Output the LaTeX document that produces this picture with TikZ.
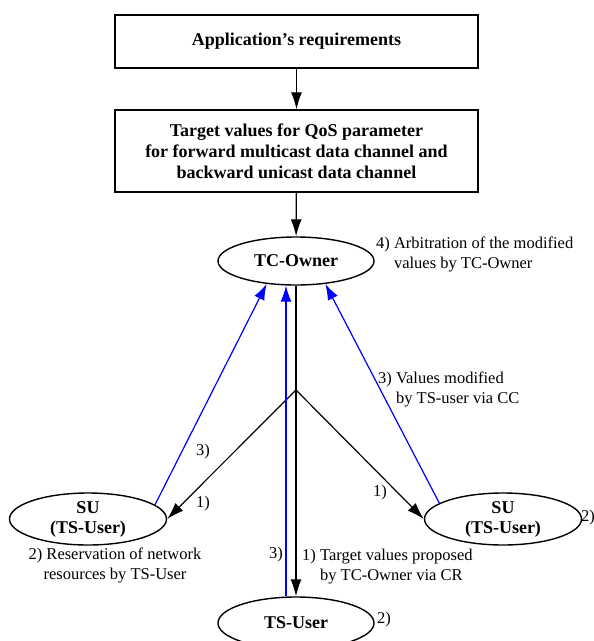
\documentclass[tikz,border=0pt]{standalone}
\usepackage{fontspec}
\setmainfont{Liberation Serif}
\usetikzlibrary{arrows.meta,shapes.geometric}
\tikzset{
  txt/.style={font=\fontsize{16.5pt}{20pt}\selectfont, inner sep=0pt},
  box/.style={draw, line width=1.4pt, minimum width=363pt, font=\fontsize{18pt}{21pt}\selectfont\bfseries, align=center},
  ell/.style={draw, ellipse, line width=1.4pt, inner sep=0pt, font=\fontsize{18pt}{20pt}\selectfont\bfseries, align=center},
  arr/.style={line width=1.2pt, -{Latex[length=17pt,width=11pt]}},
  barr/.style={blue, line width=1.2pt, -{Latex[length=16pt,width=11pt]}}
}
\begin{document}
\begin{tikzpicture}[x=1pt,y=-1pt]
   \useasboundingbox (0,0) rectangle (594,641);
   % boxes on top
   \node [box, minimum height=53pt] (req) at (296.5,41.5) {Application’s requirements};
   \node [box, minimum height=82pt] (target) at (296.5,151) {Target values for QoS parameter\\for forward multicast data channel and\\backward unicast data channel};
   % users
   \node [ell, minimum width=156pt, minimum height=48pt] (owner) at (296,261) {TC-Owner};
   \node [ell, minimum width=157pt, minimum height=52pt] (suL) at (88,519) {SU\\(TS-User)};
   \node [ell, minimum width=157pt, minimum height=52pt] (suR) at (503,519) {SU\\(TS-User)};
   \node [ell, minimum width=156pt, minimum height=52pt] (tsu) at (296,623) {TS-User};
   \coordinate (fork) at (296,390);
   % connectors
   \draw [arr] (req) -- (target);
   \draw [arr] (target) -- (owner);
   \draw [arr] (owner.south) -- (tsu.north);
   \draw [arr] (fork) -- (suL.east);
   \draw [arr] (fork) -- (suR.west);
   \draw [barr] (suL.12) -- (owner.218);
   \draw [barr] (suR.166) -- (owner.322);
   \draw [barr] ([xshift=-10pt]tsu.north) -- ([xshift=-10pt]owner.south);
   % labels
   \node [txt, anchor=west, align=left] (arb) at (376,254.5) {4) Arbitration of the modified\\\phantom{4) }values by TC-Owner};
   \node [txt, anchor=west, align=left] (mod) at (378,389) {3) Values modified\\\phantom{3) }by TS-user via CC};
   \node [txt] (l3a) at (203,452) {3)};
   \node [txt] (l1a) at (203,504) {1)};
   \node [txt] (l1b) at (380,493) {1)};
   \node [txt] (l3b) at (276,555) {3)};
   \node [txt, align=center] (resv) at (115,565) {2) Reservation of network\\resources by TS-User};
   \node [txt, anchor=west, align=left] (prop) at (302,567) {1) Target values proposed\\\phantom{1) }by TC-Owner via CR};
   \node [txt, anchor=west] (l2a) at (581,518) {2)};
   \node [txt, anchor=west] (l2b) at (377,620) {2)};
\end{tikzpicture}
\end{document}
